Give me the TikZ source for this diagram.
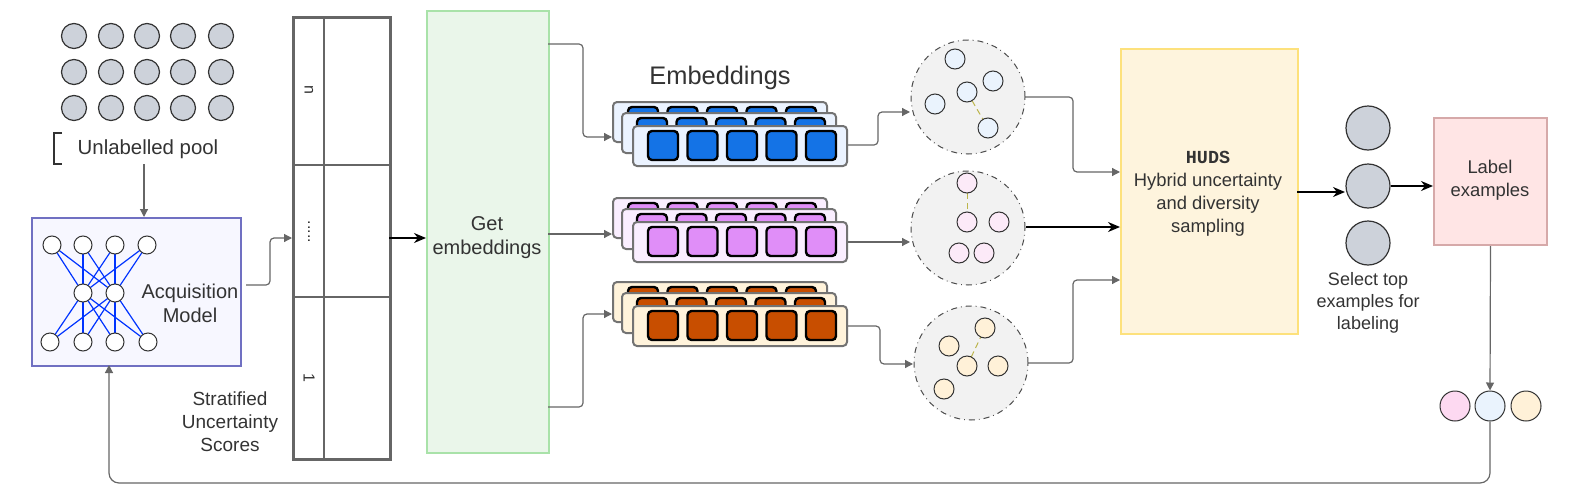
\documentclass[tikz,border=0pt]{standalone}
\usepackage{fontspec}
\setmainfont{Liberation Sans}
\setmonofont{Liberation Mono}
\usetikzlibrary{arrows.meta}
\definecolor{txt}{HTML}{333333}
\definecolor{ln}{HTML}{666666}
\definecolor{poolc}{HTML}{CDD2DA}
\definecolor{ca}{HTML}{EAF3FD}
\definecolor{cb}{HTML}{FCEAF8}
\definecolor{cc}{HTML}{FFF1D8}
\definecolor{fa}{HTML}{FDD9F1}
\tikzset{
  x=0.5pt,y=-0.5pt,
  every node/.style={text=txt},
  lbl/.style={font=\fontsize{10}{12}\selectfont,align=center},
  conn/.style={draw=ln,line width=0.6pt,-{Triangle[length=4pt,width=4pt]},rounded corners=2pt},
  bconn/.style={draw=black,line width=0.7pt,-{Stealth[length=6pt,width=5pt]}},
  pool/.style={circle,draw=black!80,fill=poolc,minimum size=12.5pt,inner sep=0,line width=0.6pt},
  nn/.style={circle,draw=black!80,fill=white,minimum size=9pt,inner sep=0,line width=0.5pt},
  sm/.style={circle,draw=black!80,minimum size=10pt,inner sep=0,line width=0.5pt},
  clus/.style={circle,draw=black!70,fill=gray!10,dash dot,minimum size=57pt,inner sep=0,line width=0.5pt},
  emb/.style={draw=gray!90!black,rounded corners=2pt,line width=1pt},
  sq/.style={draw=black,rounded corners=2pt,line width=1.2pt},
  link/.style={draw=olive!60,densely dashed,line width=0.5pt},
}
\begin{document}
\begin{tikzpicture}
\useasboundingbox (0,0) rectangle (1578,503);
% pool
\foreach \x [count=\i] in {74,111,147,183,221}{
  \foreach \y [count=\j] in {36,72,108}{
    \node[pool] (p\i\j) at (\x,\y) {};
  }}
\draw[black!80,line width=0.6pt] (62,133) -- (54,133) -- (54,164) -- (62,164);
\node[lbl,font=\fontsize{10.2}{12}\selectfont] (pooltxt) at (148,149) {Unlabelled pool};
% acquisition model
\node[draw=blue!40!gray!80,fill=blue!3,line width=1pt,minimum width=104.5pt,minimum height=74pt,inner sep=0,anchor=north west] (acq) at (31,217) {};
\coordinate (acqtop) at (144,217);
\coordinate (acqbot) at (109,365);
\draw[conn] (144,164) -- (acqtop);
\foreach \x [count=\i] in {52,83,115,147}{\coordinate (t\i) at (\x,245);}
\foreach \x [count=\i] in {50,83,115,148}{\coordinate (b\i) at (\x,342);}
\coordinate (m1) at (83,293); \coordinate (m2) at (115,293);
\foreach \a in {t1,t2,t3,t4,b1,b2,b3,b4}{\foreach \m in {m1,m2}{\draw[blue!80!cyan,line width=0.6pt] (\a)--(\m);}}
\foreach \a in {t1,t2,t3,t4,b1,b2,b3,b4,m1,m2}{\node[nn] (n\a) at (\a) {};}
\node[lbl] (acqtxt) at (190,303) {Acquisition\\Model};
% scores table
\node[draw=ln,line width=1.3pt,minimum width=48.5pt,minimum height=221pt,inner sep=0,anchor=north west] (tab) at (292,16) {};
\draw[ln,line width=1.3pt] (324,16) -- (324,458) (292,165) -- (389,165) (292,297) -- (389,297);
\node[rotate=-90,font=\fontsize{8}{10}\selectfont] (tn) at (309,90) {n};
\node[rotate=-90,font=\fontsize{8}{10}\selectfont] (td) at (309,232) {.....};
\node[rotate=-90,font=\fontsize{8}{10}\selectfont] (tone) at (309,378) {1};
\node[lbl,font=\fontsize{9.5}{11.5}\selectfont] (strat) at (230,422) {Stratified\\Uncertainty\\Scores};
\coordinate (tabin) at (292,238);
\draw[conn] (246,285) -- (270,285) -- (270,238) -- (tabin);
% get embeddings
\node[draw=green!50!gray!45,fill=green!40!gray!12,line width=1pt,minimum width=61pt,minimum height=221pt,inner sep=0,anchor=north west] (get) at (426,10) {};
\node[lbl] (gettxt) at (487,238) {Get\\embeddings};
\coordinate (tabout) at (389,238); \coordinate (getin) at (426,238);
\draw[bconn] (tabout) -- (getin);
% embeddings stacks
\node[font=\fontsize{12.7}{14}\selectfont] (embtxt) at (720,78) {Embeddings};
\foreach \yf/\bgc/\sqcol in {126/EBF3FF/1473E6, 222/FAEEFF/E08EF8, 306/FFF3DB/C84E00}{
  \definecolor{bgx}{HTML}{\bgc}\definecolor{sqx}{HTML}{\sqcol}
  \foreach \dx/\dy in {-20/-24,-11/-13,0/0}{
    \filldraw[emb,fill=bgx] (633+\dx,\yf+\dy) rectangle (847+\dx,\yf+\dy+40);
    \foreach \k in {0,...,4}{
      \filldraw[sq,fill=sqx] (648+\dx+\k*39.5,\yf+\dy+5) rectangle (678+\dx+\k*39.5,\yf+\dy+34);
    }
  }
}
\coordinate (eAi) at (612,137); \coordinate (eBi) at (612,234); \coordinate (eCi) at (612,314);
\draw[conn] (548,44) -- (583,44) -- (583,137) -- (eAi);
\draw[conn] (548,234) -- (eBi);
\draw[conn] (548,407) -- (583,407) -- (583,314) -- (eCi);
% clusters
\node[clus] (cA) at (968,97) {};
\node[clus] (cB) at (968,228) {};
\node[clus] (cC) at (971,363) {};
\draw[link] (967,92) -- (988,128);
\draw[link] (967,183) -- (967,222);
\draw[link] (967,366) -- (985,328);
\foreach \x/\y [count=\i] in {955/59,993/81,967/92,935/104,988/128}{\node[sm,fill=ca] (sa\i) at (\x,\y) {};}
\foreach \x/\y [count=\i] in {967/183,967/222,999/222,959/253,984/253}{\node[sm,fill=cb] (sb\i) at (\x,\y) {};}
\foreach \x/\y [count=\i] in {985/328,949/346,967/366,998/366,944/389}{\node[sm,fill=cc] (sc\i) at (\x,\y) {};}
\coordinate (cAi) at (910,112); \coordinate (cBi) at (910,242); \coordinate (cCi) at (913,364);
\draw[conn] (848,145) -- (878,145) -- (878,112) -- (cAi);
\draw[conn] (848,242) -- (cBi);
\draw[conn] (848,326) -- (880,326) -- (880,364) -- (cCi);
% HUDS
\node[draw=yellow!60!orange!50,fill=yellow!40!orange!12,line width=1pt,minimum width=88.5pt,minimum height=142.5pt,inner sep=0,anchor=north west] (huds) at (1120,48) {};
\node[lbl,font=\fontsize{9.2}{11.5}\selectfont] (hudstxt) at (1208,194) {\textbf{\ttfamily HUDS}\\Hybrid uncertainty\\and diversity\\sampling};
\coordinate (hA) at (1120,172); \coordinate (hB) at (1120,227); \coordinate (hC) at (1120,280);
\draw[conn] (1025,97) -- (1073,97) -- (1073,172) -- (hA);
\draw[bconn] (1026,227) -- (hB);
\draw[conn] (1028,363) -- (1073,363) -- (1073,280) -- (hC);
% selected
\node[pool,minimum size=22pt] (s1) at (1368,128) {};
\node[pool,minimum size=22pt] (s2) at (1368,186) {};
\node[pool,minimum size=22pt] (s3) at (1368,243) {};
\coordinate (hout) at (1297,192); \coordinate (s2in) at (1345,192);
\draw[bconn] (hout) -- (s2in);
\node[lbl,font=\fontsize{9}{11}\selectfont] (seltxt) at (1368,303) {Select top\\examples for\\labeling};
\node[draw=red!35!gray!50,fill=red!10,line width=1pt,minimum width=56.5pt,minimum height=63.5pt,inner sep=0,anchor=north west] (lab) at (1433,117) {};
\node[lbl,font=\fontsize{9.2}{11.5}\selectfont] (labtxt) at (1490,180) {Label\\examples};
\draw[bconn] (s2.east) -- (lab.west |- s2.east);
\node[sm,fill=fa,minimum size=15pt] (l1) at (1455,406) {};
\node[sm,fill=ca,minimum size=15pt] (l2) at (1490,406) {};
\node[sm,fill=cc,minimum size=15pt] (l3) at (1526,406) {};
\draw[conn] (lab.south) -- (l2.north);
\draw[conn,rounded corners=5pt] (l2.south) -- (1490,483) -- (109,483) -- (acqbot);
\end{tikzpicture}
\end{document}
